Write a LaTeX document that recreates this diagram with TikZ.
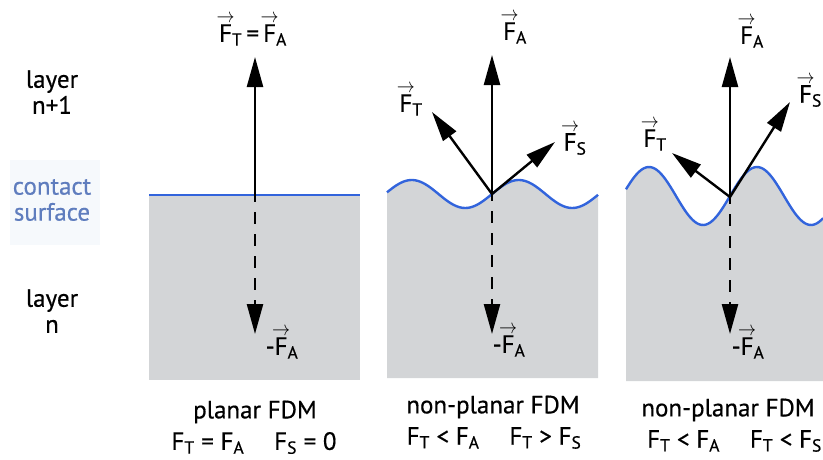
\documentclass[tikz,border=0pt]{standalone}
\usepackage{fontspec}
\usepackage{graphicx}
\setmainfont{PT Sans}[FakeBold=0.5]
\usetikzlibrary{arrows.meta}
\definecolor{grayfill}{RGB}{211,213,215}
\definecolor{wavecol}{RGB}{50,100,220}
\definecolor{contactcol}{RGB}{95,125,190}
\definecolor{faintbox}{RGB}{246,249,252}
\newcommand\vF[1]{\ooalign{F\cr\hidewidth\raisebox{0.76em}{\resizebox{0.72em}{0.3em}{$\rightarrow$}}\hidewidth\cr}\textsubscript{#1}}
\newcommand\sF[1]{F\textsubscript{#1}}
\tikzset{
  force/.style={line width=2.4pt, -{Triangle[length=30pt,width=16pt]}},
  reaction/.style={line width=2.4pt, dash pattern=on 12pt off 10pt, dash phase=-17pt, -{Triangle[length=30pt,width=16pt]}},
  lbl/.style={font=\fontsize{25}{29}\selectfont, inner sep=0pt},
  sidelbl/.style={font=\fontsize{25}{26}\selectfont, inner sep=0pt, align=center},
  surf/.style={draw=wavecol, line width=2.4pt},
}
\begin{document}
\begin{tikzpicture}[x=1pt,y=-1pt]
\useasboundingbox (0,0) rectangle (823,459);
% side labels
\fill[faintbox] (10,160) rectangle (100,245);
\node[sidelbl] (l1) at (52,92) {layer\\n+1};
\node[sidelbl, text=contactcol] (cs) at (52,200) {contact\\surface};
\node[sidelbl] (l0) at (52,311) {layer\\n};

% ---- panel 1 ----
\fill[grayfill] (149,195) rectangle (360,380);
\draw[surf] (149,195) -- (360,195);
\coordinate (o1) at (255,195);
\coordinate (a1) at (255,57);
\coordinate (d1) at (255,334);
\draw[reaction] (o1) -- (d1);
\draw[force] (o1) -- (a1);
\node[lbl] (ta1) at (253,35) {\vF{T}\,=\,\vF{A}};
\node[lbl] (ma1) at (282,348) {-\vF{A}};
\node[lbl] (c1a) at (255,412) {planar FDM};
\node[lbl] (c1b) at (254,443) {\sF{T} = \sF{A}\hspace{1.2em}\sF{S} = 0};

% ---- panel 2 ----
\fill[grayfill] plot[domain=387:598,samples=90] (\x,{194-14*sin(3.3645*(\x-492))}) -- (598,378) -- (387,378) -- cycle;
\draw[surf] plot[domain=387:598,samples=90] (\x,{194-14*sin(3.3645*(\x-492))});
\coordinate (o2) at (492,194);
\coordinate (a2) at (492,55);
\coordinate (t2) at (432,112);
\coordinate (s2) at (555,142);
\coordinate (d2) at (492,334);
\draw[reaction] (o2) -- (d2);
\draw[force] (o2) -- (a2);
\draw[force] (o2) -- (t2);
\draw[force] (o2) -- (s2);
\node[lbl] (ta2) at (515,33) {\vF{A}};
\node[lbl] (tt2) at (411,105) {\vF{T}};
\node[lbl] (ts2) at (575,144) {\vF{S}};
\node[lbl] (ma2) at (509,346) {-\vF{A}};
\node[lbl] (c2a) at (493,407) {non-planar FDM};
\node[lbl] (c2b) at (494,438) {\sF{T} < \sF{A}\hspace{1.2em}\sF{T} > \sF{S}};

% ---- panel 3 ----
\fill[grayfill] plot[domain=626:823,samples=90] (\x,{196-29*sin(3.3333*(\x-730))}) -- (823,381) -- (626,381) -- cycle;
\draw[surf] plot[domain=626:823,samples=90] (\x,{196-29*sin(3.3333*(\x-730))});
\coordinate (o3) at (730,197);
\coordinate (a3) at (730,57);
\coordinate (t3) at (672,153);
\coordinate (s3) at (790,102);
\coordinate (d3) at (730,334);
\draw[reaction] (o3) -- (d3);
\draw[force] (o3) -- (a3);
\draw[force] (o3) -- (t3);
\draw[force] (o3) -- (s3);
\node[lbl] (ta3) at (752,37) {\vF{A}};
\node[lbl] (tt3) at (655,140) {\vF{T}};
\node[lbl, anchor=east] (ts3) at (822,96) {\vF{S}};
\node[lbl] (ma3) at (748,348) {-\vF{A}};
\node[lbl] (c3a) at (728,410) {non-planar FDM};
\node[lbl, anchor=east] (c3b) at (822,441) {\sF{T} < \sF{A}\hspace{1.2em}\sF{T} < \sF{S}};
\end{tikzpicture}
\end{document}
